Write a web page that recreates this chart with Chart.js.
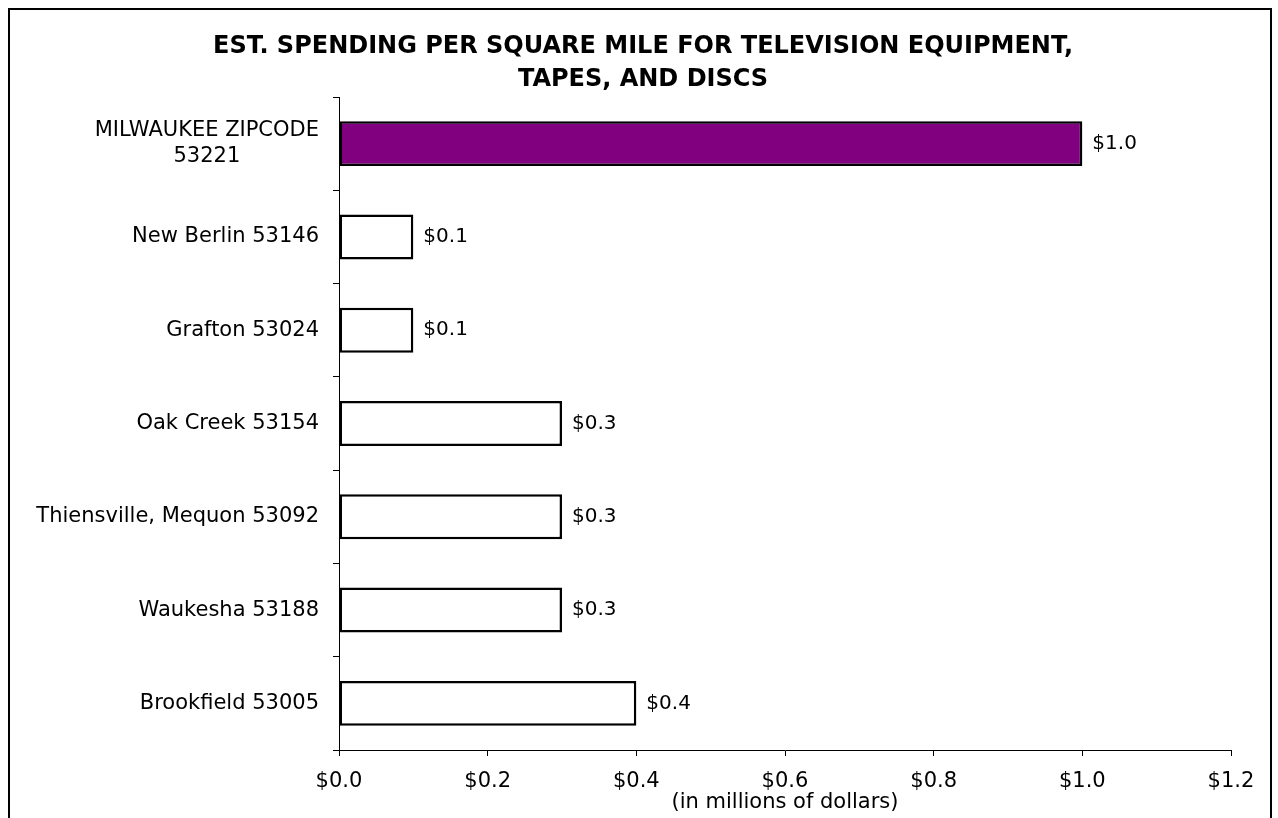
<!DOCTYPE html>
<html>
<head>
<meta charset="utf-8">
<script src="https://cdn.jsdelivr.net/npm/chart.js@4/dist/chart.umd.min.js"></script>
<style>
html,body{margin:0;padding:0;background:#fff;}
#wrap{position:relative;width:1278px;height:818px;}
</style>
</head>
<body>
<div id="wrap"><canvas id="c" width="1278" height="818"></canvas></div>
<script>
// ---- data ----
const categories = [
  ["MILWAUKEE ZIPCODE", "53221"],
  "New Berlin 53146",
  "Grafton 53024",
  "Oak Creek 53154",
  "Thiensville, Mequon 53092",
  "Waukesha 53188",
  "Brookfield 53005"
];
const values = [1.0, 0.1, 0.1, 0.3, 0.3, 0.3, 0.4];
const xTickValues = [0, 0.2, 0.4, 0.6, 0.8, 1.0, 1.2];
const titleLines = ["EST. SPENDING PER SQUARE MILE FOR TELEVISION EQUIPMENT,", "TAPES, AND DISCS"];
const axisTitle = "(in millions of dollars)";
const highlightIndex = 0;

// ---- styles ----
const FONT = "'DejaVu Sans', Verdana, sans-serif";
const HIGHLIGHT = '#800080';
const fmt = v => '$' + Number(v).toFixed(1);

const yLabelPlugin = {
  id: 'yLabels',
  afterDraw(chart) {
    const ys = chart.scales.y;
    const ctx = chart.ctx;
    ctx.save();
    ctx.font = '21px ' + FONT;
    ctx.fillStyle = '#000';
    ctx.textAlign = 'center';
    ctx.textBaseline = 'middle';
    const lineH = 26;
    const right = ys.right - 20;
    chart.data.labels.forEach((lab, i) => {
      const lines = Array.isArray(lab) ? lab : [lab];
      const w = Math.max(...lines.map(l => ctx.measureText(l).width));
      const cx = right - w / 2;
      const y = ys.getPixelForTick(i);
      const y0 = y - (lines.length - 1) * lineH / 2;
      lines.forEach((l, k) => ctx.fillText(l, cx, y0 + k * lineH));
    });
    ctx.restore();
  }
};

const dataLabelPlugin = {
  id: 'dataLabels',
  afterDatasetsDraw(chart) {
    const ctx = chart.ctx;
    ctx.save();
    ctx.font = '20px ' + FONT;
    ctx.fillStyle = '#000';
    ctx.textAlign = 'left';
    ctx.textBaseline = 'middle';
    const meta = chart.getDatasetMeta(0);
    meta.data.forEach((bar, i) => {
      ctx.fillText(fmt(chart.data.datasets[0].data[i]), bar.x + 10, bar.y);
    });
    ctx.restore();
  }
};

const framePlugin = {
  id: 'frame',
  beforeDraw(chart) {
    const ctx = chart.ctx;
    ctx.save();
    ctx.fillStyle = '#fff';
    ctx.fillRect(0, 0, chart.width, chart.height);
    ctx.restore();
  },
  afterDraw(chart) {
    const ctx = chart.ctx;
    ctx.save();
    ctx.strokeStyle = '#000';
    ctx.lineWidth = 2;
    ctx.strokeRect(9, 9, 1262, 900);
    ctx.restore();
  }
};

new Chart(document.getElementById('c'), {
  type: 'bar',
  data: {
    labels: categories,
    datasets: [{
      data: values,
      backgroundColor: values.map((v, i) => i === highlightIndex ? HIGHLIGHT : '#ffffff'),
      borderColor: '#000',
      borderWidth: 2.5,
      borderSkipped: false,
      barPercentage: 0.482,
      categoryPercentage: 1.0
    }]
  },
  options: {
    indexAxis: 'y',
    responsive: false,
    devicePixelRatio: 1,
    animation: false,
    layout: { padding: { left: 55, right: 47, top: 0, bottom: 0 } },
    plugins: {
      legend: { display: false },
      tooltip: { enabled: false },
      title: {
        display: true,
        text: titleLines,
        color: '#000',
        font: { family: FONT, size: 24, weight: 'bold', lineHeight: 1.375 },
        padding: { top: 30, bottom: 1 }
      }
    },
    scales: {
      x: {
        type: 'linear',
        min: 0,
        max: 1.2,
        afterBuildTicks: s => { s.ticks = xTickValues.map(v => ({ value: v })); },
        afterFit: s => { s.height = 68; },
        ticks: {
          callback: v => fmt(v),
          color: '#000',
          font: { family: FONT, size: 21 },
          padding: 13,
          maxRotation: 0,
          autoSkip: false
        },
        grid: { drawOnChartArea: false, drawTicks: true, tickLength: 6, color: '#000', lineWidth: 1 },
        border: { display: true, color: '#000', width: 1 },
        title: {
          display: true,
          text: axisTitle,
          color: '#000',
          font: { family: FONT, size: 21, lineHeight: 1.2 },
          padding: { top: 0, bottom: 3 }
        }
      },
      y: {
        type: 'category',
        offset: true,
        afterFit: s => { s.width = 284; },
        ticks: { display: false },
        grid: { offset: true, drawOnChartArea: false, drawTicks: true, tickLength: 6, color: '#000', lineWidth: 1 },
        border: { display: true, color: '#000', width: 1 }
      }
    }
  },
  plugins: [framePlugin, yLabelPlugin, dataLabelPlugin]
});
</script>
</body>
</html>
